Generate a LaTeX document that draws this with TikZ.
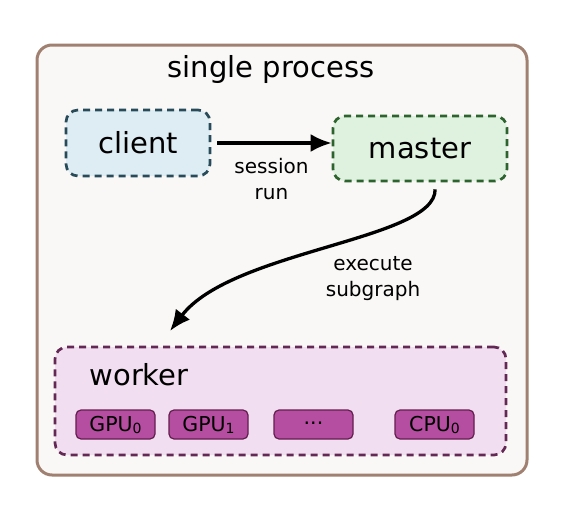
\documentclass[tikz,border=0pt]{standalone}
\usepackage{fontspec}
\setmainfont{DejaVu Sans}
\usetikzlibrary{arrows.meta}

\definecolor{procline}{RGB}{160,128,112}
\definecolor{procfill}{RGB}{250,248,246}
\definecolor{clientline}{RGB}{40,75,90}
\definecolor{clientfill}{RGB}{222,236,243}
\definecolor{masterline}{RGB}{45,100,45}
\definecolor{masterfill}{RGB}{223,241,223}
\definecolor{workerline}{RGB}{100,40,85}
\definecolor{workerfill}{RGB}{241,222,240}
\definecolor{devline}{RGB}{100,30,80}
\definecolor{devfill}{RGB}{181,77,160}

\newcommand{\devsub}[1]{\raisebox{-2pt}{\fontsize{14}{14}\selectfont #1}}

\tikzset{
  bigtext/.style={font=\fontsize{29}{34}\selectfont},
  smalltext/.style={font=\fontsize{20}{26}\selectfont, align=center},
  rolebox/.style={draw, rounded corners=12pt, line width=2.7pt,
    dash pattern=on 7pt off 5pt, inner sep=0pt, bigtext},
  devbox/.style={draw=devline, fill=devfill, rounded corners=5pt, line width=1.2pt,
    minimum width=79pt, minimum height=29pt, inner sep=0pt,
    font=\fontsize{20.5}{22}\selectfont},
  flow/.style={line width=3.3pt, -{Latex[length=21pt,width=18pt]}}
}

\begin{document}
\begin{tikzpicture}[x=1pt, y=-1pt]
    \useasboundingbox (0,0) rectangle (566,522);

    % the process
    \node[draw=procline, fill=procfill, line width=3pt, rounded corners=15pt,
          minimum width=490pt, minimum height=430pt] (proc) at (282,260) {};
    \node[bigtext] (proclabel) at (271,69) {single process};

    % client and master
    \node[rolebox, draw=clientline, fill=clientfill,
          minimum width=144pt, minimum height=66pt] (client) at (138,143) {client};
    \node[rolebox, draw=masterline, fill=masterfill,
          minimum width=174pt, minimum height=65pt] (master) at (420,148.5) {master};

    % worker with its devices
    \node[rolebox, draw=workerline, fill=workerfill,
          minimum width=451pt, minimum height=108pt] (worker) at (280.5,401) {};
    \node[bigtext, anchor=west] (workerlabel) at (86,375) {worker};

    \node[devbox] (gpu0) at (115.5,424.5) {GPU\devsub{0}};
    \node[devbox] (gpu1) at (208.5,424.5) {GPU\devsub{1}};
    \node[devbox] (dots) at (313.5,424.5) {\raisebox{2pt}{...}};
    \node[devbox] (cpu0) at (434.5,424.5) {CPU\devsub{0}};

    % calls
    \draw[flow, shorten <=6pt] (client.east) -- (client.east -| master.west)
        node[midway, below=10pt, smalltext] (runlabel) {session\\run};

    \coordinate (target) at (170,331);
    \draw[flow, shorten <=7pt] ([xshift=15pt]master.south)
        .. controls (436,240) and (232,250) .. (target);
    \node[smalltext] (execlabel) at (373,279) {execute\\subgraph};
\end{tikzpicture}
\end{document}
